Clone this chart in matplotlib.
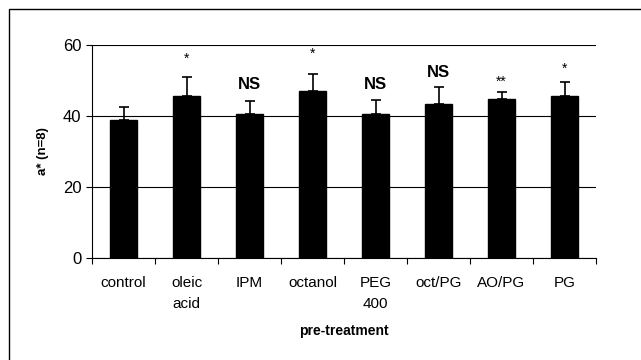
import matplotlib
matplotlib.use("Agg")
import matplotlib.pyplot as plt
from matplotlib.patches import Rectangle

categories = ["control", "oleic\nacid", "IPM", "octanol", "PEG\n400", "oct/PG", "AO/PG", "PG"]
means = [38.7, 45.5, 40.5, 47.0, 40.4, 43.3, 44.7, 45.6]
errors = [3.8, 5.4, 3.7, 4.7, 4.0, 4.7, 2.0, 4.0]
sig_labels = ["", "*", "NS", "*", "NS", "NS", "**", "*"]
sig_y = [0, 54.8, 47.6, 56.4, 47.6, 51.0, 48.3, 52.2]
yticks = [0, 20, 40, 60]

plt.rcParams['font.family'] = ['Liberation Sans', 'DejaVu Sans']

fig = plt.figure(figsize=(6.41, 3.6), dpi=100)
ax = fig.add_axes([92/641, 1 - 257.7/360, (596-92)/641, (257.7-44.7)/360])

x = list(range(len(categories)))
ax.bar(x, means, width=0.42, color='black', edgecolor='black', zorder=3)
ax.errorbar(x, means, yerr=[[0]*len(errors), errors], fmt='none', ecolor='black',
            elinewidth=1.2, capsize=3.6, capthick=1.2, zorder=4)

for xi, lab, yy in zip(x, sig_labels, sig_y):
    if not lab:
        continue
    if lab == "NS":
        ax.text(xi, yy, lab, ha='center', va='baseline', fontsize=12, fontweight='bold')
    else:
        ax.text(xi, yy, lab, ha='center', va='baseline', fontsize=10)

ax.set_xlim(-0.5, len(categories) - 0.5)
ax.set_ylim(0, 60)
ax.set_yticks(yticks)
ax.set_yticklabels([str(t) for t in yticks], fontsize=12)
ax.yaxis.grid(True, color='black', linewidth=0.8, zorder=0)
ax.set_axisbelow(True)

ax.set_xticks(x)
ax.set_xticklabels(categories, fontsize=11, linespacing=1.65)
ax.set_xticks([i - 0.5 for i in range(len(categories) + 1)], minor=True)
ax.tick_params(axis='x', which='major', length=0, pad=13)
ax.tick_params(axis='x', which='minor', length=4, width=0.8, direction='out')
ax.tick_params(axis='y', length=4.5, width=0.8, direction='out', pad=3)

for s in ['top', 'right']:
    ax.spines[s].set_visible(False)
for s in ['left', 'bottom']:
    ax.spines[s].set_color('black')
    ax.spines[s].set_linewidth(0.8)

ax.set_ylabel("a* (n=8)", fontsize=9.5, fontweight='bold', labelpad=10)
ax.set_xlabel("pre-treatment", fontsize=10, fontweight='bold', labelpad=9.5)

fig.patches.append(Rectangle((9/641, -0.1), 1.2, 1.1 - 9/360, transform=fig.transFigure,
                             fill=False, edgecolor='black', linewidth=1.0, clip_on=False))

fig.savefig("out.png", dpi=100)
